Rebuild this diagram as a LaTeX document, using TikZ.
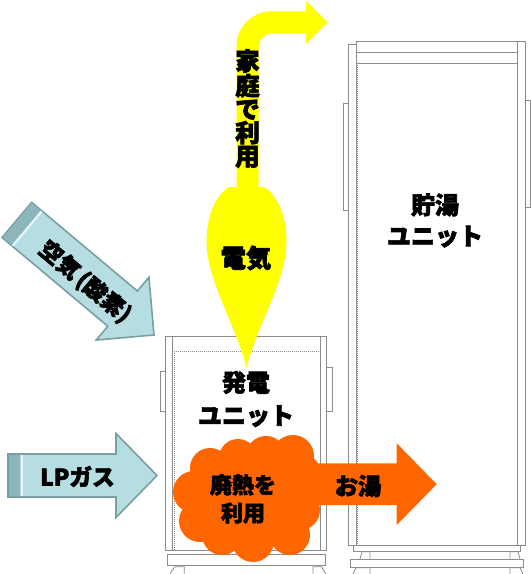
\documentclass[tikz,border=0pt]{standalone}
\usepackage{fontspec}
\setmainfont{Noto Sans CJK JP}[BoldFeatures={FakeBold=2.5}]
\definecolor{unitgray}{RGB}{140,140,140}
\definecolor{skyfill}{RGB}{182,222,226}
\definecolor{skyedge}{RGB}{120,160,162}
\definecolor{skyband}{RGB}{140,182,186}
\definecolor{elecyellow}{RGB}{255,255,0}
\definecolor{heatorange}{RGB}{255,102,0}
\tikzset{
  unitline/.style={draw=unitgray, line width=0.6pt},
  unitdot/.style={draw=unitgray, line width=0.5pt, densely dotted},
  feedarrow/.style={fill=skyfill, draw=skyedge, line width=1.2pt, line join=miter},
  lbl/.style={font=\bfseries\fontsize{18}{24}\selectfont, inner sep=0pt, align=center, text=black},
}
\begin{document}
\begin{tikzpicture}[x=0.75pt,y=-0.75pt]
\useasboundingbox (0,0) rectangle (531,574);
\fill[white] (0,0) rectangle (531,574);

% ---------- power unit ----------
\path[unitline] (160,371.7) rectangle (165.3,411.7);
\path[unitline] (326.7,367) rectangle (332.3,411.7);
\path[unitline] (165.3,336) rectangle (326.7,550.7);
\path[unitline] (172.3,336) -- (172.3,550.7);
\path[unitline] (320.3,336) -- (320.3,550.7);
\path[unitdot] (172.3,351) -- (320.3,351);
\path[unitdot] (174.3,351) -- (174.3,550.7);
\path[unitline] (167.3,554.3) rectangle (325.7,565.3);
\path[unitline] (170,573.5) -- (175,566.7) -- (184.3,566.7) -- (184.3,573.5);
\path[unitline] (313,573.5) -- (313,566.7) -- (321.5,566.7) -- (325.7,573.5);

% ---------- storage unit ----------
\path[unitline] (343.3,103.7) rectangle (348.3,210.8);
\path[unitline] (525.7,100.6) rectangle (530.6,207.3);
\path[unitline] (348.3,44) rectangle (356,545.8);
\path[unitline] (356,41.2) rectangle (525.7,545.8);
\path[unitline] (517.7,41.2) -- (517.7,545.8);
\path[unitline] (356,52.9) -- (517.7,52.9);
\path[unitline] (356,63.1) -- (517.7,63.1);
\path[unitdot] (357.8,63.1) -- (357.8,545.8);
\path[unitline] (353.3,545.8) rectangle (520,551.8);
\path[unitline] (360,558.9) -- (362,551.8) -- (370,551.8) -- (370,558.9);
\path[unitline] (510,558.9) -- (510,551.8) -- (518,551.8) -- (520,558.9);
\path[unitline] (350,558.9) rectangle (523.3,567.7);
\path[unitline] (353,574) -- (356,567.7) -- (370,567.7) -- (370,574);
\path[unitline] (510,574) -- (510,567.7) -- (520,567.7) -- (523,574);

% ---------- LP gas arrow ----------
\begin{scope}[shift={(157,475.5)}]
  \path[feedarrow] (0,0) -- (-41,-42) -- (-41,-21.5) -- (-149,-21.5) -- (-149,21.5) -- (-41,21.5) -- (-41,42) -- cycle;
  \fill[skyband] (-148.4,-20.9) rectangle (-137,20.9);
  \draw[white!70!skyfill, line width=1.5pt] (-135.5,-20.9) -- (-135.5,20.9);
\end{scope}
\node[lbl, font=\bfseries\fontsize{17}{20}\selectfont] (lpgas) at (77.5,476.5) {LPガス};

% ---------- air arrow ----------
\begin{scope}[shift={(154,335)}, rotate=-40]
  \path[feedarrow] (0,0) -- (-41,-41) -- (-41,-23) -- (-179,-23) -- (-179,23) -- (-41,23) -- (-41,41) -- cycle;
  \fill[skyband] (-178.4,-22.4) rectangle (-167,22.4);
  \draw[white!70!skyfill, line width=1.5pt] (-165.5,-22.4) -- (-165.5,22.4);
\end{scope}
\node[lbl, font=\bfseries\fontsize{17}{20}\selectfont, rotate=-40] (air) at (85,282) {空気\hspace{2.5pt}(酸素)};

% ---------- electricity arrow ----------
\path[fill=elecyellow] (236.5,200) -- (236.5,46.3)
  .. controls (236.5,26.97) and (252.17,11.3) .. (271.5,11.3)
  -- (306,11.3) -- (306,0.8) -- (327.7,22.3) -- (306,43.8) -- (306,33.3)
  -- (271.5,33.3) .. controls (264.32,33.3) and (258.5,40.48) .. (258.5,46.3)
  -- (258.5,200) -- cycle;
\path[fill=elecyellow] (246.5,368) .. controls (238,330) and (206.5,280) .. (206.5,242)
  .. controls (206.5,215) and (216,195) .. (229,187) -- (264,187)
  .. controls (277,195) and (286.5,215) .. (286.5,242)
  .. controls (286.5,280) and (255,330) .. (246.5,368) -- cycle;
\node[lbl, font=\bfseries\fontsize{18.5}{17.6}\selectfont] (home) at (247.5,108.5) {家\\庭\\で\\利\\用};
\node[lbl, font=\bfseries\fontsize{19}{20}\selectfont] (elec) at (246,258) {電気};

% ---------- waste heat ----------
\path[fill=heatorange] (300,463.3) -- (396.7,463.3) -- (396.7,443.3) -- (436.7,484.2)
  -- (396.7,525) -- (396.7,505) -- (300,505) -- cycle;
\fill[heatorange] (210,468) circle[radius=20] (238,458) circle[radius=19]
  (266,456) circle[radius=20] (293,456) circle[radius=21] (302,472) circle[radius=18]
  (194,492) circle[radius=21] (200,521) circle[radius=21] (300,510) circle[radius=20]
  (290,535) circle[radius=20] (253,541) circle[radius=21] (222,535) circle[radius=20]
  (250,495) circle[radius=42] (225,500) circle[radius=30] (275,495) circle[radius=35];
\node[lbl, font=\bfseries\fontsize{16.5}{21}\selectfont] (heat) at (243,499) {廃熱を\\利用};
\node[lbl, font=\bfseries\fontsize{17.5}{20}\selectfont] (hotwater) at (358,486) {お湯};

% ---------- unit labels ----------
\node[lbl, font=\bfseries\fontsize{18}{24.75}\selectfont] (gen) at (246,399) {発電\\ユニット};
\node[lbl, font=\bfseries\fontsize{18}{23.25}\selectfont] (store) at (435,220.5) {貯湯\\ユニット};
\end{tikzpicture}
\end{document}
